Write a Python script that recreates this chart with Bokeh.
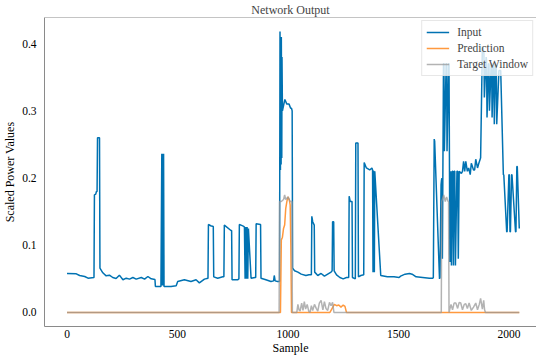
from bokeh.plotting import figure
from bokeh.embed import file_html
from bokeh.resources import INLINE
from bokeh.models import Range1d, FixedTicker, NumeralTickFormatter, Span, Legend, LegendItem

# ---- data ----
input_x = [0, 42, 57, 80, 95, 122, 124, 130, 133, 136, 138, 147, 149, 162, 177, 192, 207, 222, 237,
           253, 268, 283, 298, 313, 336, 351, 366, 381, 398, 400, 425, 429, 431, 433, 435, 437, 439,
           448, 471, 494, 501, 531, 561, 584, 599, 622, 638, 640, 650, 662, 664, 682, 705, 710, 712,
           742, 745, 747, 772, 778, 780, 800, 803, 806, 809, 812, 815, 818, 821, 833, 851, 854, 856,
           876, 878, 900, 923, 935, 938, 942, 953, 962,
           964, 966, 967, 969, 970, 972, 973, 975, 986, 995, 1005, 1012, 1016, 1019, 1021, 1030, 1045,
           1060, 1081, 1095, 1106, 1108, 1112, 1119, 1121, 1135, 1150, 1165, 1180, 1195, 1200, 1202,
           1207, 1209, 1220, 1235, 1250, 1265, 1275, 1277, 1282, 1290, 1292, 1305, 1307, 1317, 1319,
           1330, 1343, 1345, 1355, 1370, 1380, 1383, 1385, 1387, 1389, 1391, 1393, 1420, 1450, 1480,
           1503, 1510, 1530, 1550, 1562, 1580, 1610, 1640, 1656, 1658, 1662, 1664, 1686, 1688, 1693,
           1695, 1697, 1699, 1704, 1706, 1708, 1716, 1718, 1720, 1727, 1729, 1733, 1737, 1740, 1744,
           1746, 1749, 1752, 1755, 1758, 1765, 1768, 1771, 1775, 1785, 1790, 1795, 1800, 1805, 1812,
           1818, 1825, 1830, 1840, 1845, 1850, 1858, 1864, 1870, 1872, 1880, 1885, 1887, 1889, 1897,
           1899, 1901, 1908, 1910, 1912, 1920, 1922, 1924, 1930, 1932, 1934, 1940, 1943, 1945, 1955,
           1961, 1963, 1975, 1977, 1990, 1992, 2000, 2002, 2005, 2007, 2012, 2014, 2030, 2032, 2036,
           2038, 2047]
input_y = [0.058, 0.0575, 0.055, 0.0535, 0.051, 0.052, 0.175, 0.176, 0.18, 0.18, 0.26, 0.26, 0.066,
           0.059, 0.0545, 0.0555, 0.052, 0.0505, 0.0555, 0.0486, 0.051, 0.0496, 0.052, 0.0496, 0.052,
           0.0496, 0.0535, 0.050, 0.049, 0.0387, 0.0387, 0.236, 0.04, 0.236, 0.04, 0.236, 0.0387,
           0.0387, 0.0387, 0.0397, 0.046, 0.0486, 0.046, 0.0486, 0.044, 0.0496, 0.051, 0.131, 0.129,
           0.128, 0.053, 0.051, 0.053, 0.053, 0.130, 0.122, 0.122, 0.0486, 0.0486, 0.05, 0.131,
           0.128, 0.127, 0.05, 0.127, 0.05, 0.127, 0.05, 0.125, 0.051, 0.052, 0.052, 0.132, 0.131,
           0.051, 0.0486, 0.046, 0.047, 0.055, 0.047, 0.046, 0.046,
           0.418, 0.212, 0.40, 0.22, 0.41, 0.23, 0.38, 0.30, 0.317, 0.31, 0.31, 0.304, 0.304, 0.30,
           0.066, 0.062, 0.06, 0.057, 0.055, 0.056, 0.056, 0.143, 0.135, 0.13, 0.06, 0.055, 0.058,
           0.054, 0.057, 0.06, 0.062, 0.135, 0.135, 0.062, 0.056, 0.052, 0.05, 0.052, 0.052, 0.173,
           0.165, 0.165, 0.052, 0.05, 0.252, 0.252, 0.053, 0.055, 0.056, 0.223, 0.215, 0.212, 0.215,
           0.212, 0.06, 0.21, 0.21, 0.06, 0.21, 0.055, 0.053, 0.053, 0.052, 0.054, 0.057, 0.058,
           0.057, 0.053, 0.052, 0.051, 0.051, 0.052, 0.258, 0.255, 0.05, 0.052, 0.19, 0.197, 0.2,
           0.08, 0.37, 0.37, 0.24, 0.37, 0.37, 0.24, 0.37, 0.37, 0.075, 0.21, 0.07, 0.21, 0.21, 0.07,
           0.21, 0.21, 0.07, 0.21, 0.21, 0.08, 0.21, 0.207, 0.21, 0.225, 0.21, 0.225, 0.21, 0.215,
           0.205, 0.222, 0.212, 0.212, 0.228, 0.215, 0.222, 0.228, 0.23, 0.396, 0.39, 0.385, 0.32,
           0.38, 0.375, 0.29, 0.37, 0.37, 0.30, 0.37, 0.37, 0.29, 0.37, 0.37, 0.28, 0.37, 0.365,
           0.28, 0.36, 0.36, 0.36, 0.205, 0.205, 0.12, 0.12, 0.205, 0.205, 0.12, 0.12, 0.205, 0.205,
           0.12, 0.12, 0.217, 0.217, 0.125, 0.123]

pred_x = [0, 966, 970, 975, 980, 985, 990, 995, 1000, 1006, 1010, 1013, 1016, 1190, 1200, 1210,
          1220, 1230, 1240, 1250, 1258, 1265, 2047]
pred_y = [0, 0, 0.108, 0.112, 0.125, 0.13, 0.155, 0.165, 0.172, 0.168, 0.16, 0.1, 0, 0, 0.006,
          0.012, 0.01, 0.011, 0.008, 0.011, 0.009, 0, 0]

target_x = [0, 960, 962, 970, 980, 985, 990, 1000, 1010, 1018, 1020, 1040, 1045, 1050, 1055, 1062,
            1068, 1074, 1080, 1087, 1094, 1100, 1106, 1112, 1120, 1128, 1135, 1142, 1150, 1158,
            1165, 1172, 1180, 1188, 1195, 1202, 1208, 1694, 1696, 1705, 1712, 1718, 1725, 1727,
            1729, 1738, 1745, 1752, 1760, 1768, 1775, 1782, 1790, 1798, 1805, 1812, 1820, 1830,
            1840, 1850, 1858, 1866, 1872, 1880, 1886, 1890, 1894, 2047]
target_y = [0, 0, 0.165, 0.165, 0.168, 0.175, 0.168, 0.172, 0.165, 0.165, 0, 0, 0.012, 0.004,
            0.002, 0.014, 0.003, 0.016, 0.005, 0.012, 0.002, 0.0, 0.01, 0.003, 0.012, 0.006, 0.002,
            0.014, 0.018, 0.004, 0.016, 0.006, 0.003, 0.015, 0.01, 0.015, 0, 0, 0.165, 0.175,
            0.165, 0.172, 0.165, 0.165, 0, 0.012, 0.004, 0.014, 0.014, 0.006, 0.015, 0.014,
            0.004, 0.012, 0.013, 0.006, 0.014, 0.003, 0.008, 0.014, 0.004, 0.012, 0.021, 0.005,
            0.018, 0.004, 0, 0]

x_ticks = [0, 500, 1000, 1500, 2000]
y_ticks = [0.0, 0.1, 0.2, 0.3, 0.4]

SERIF = "Liberation Serif"
SPINE = "#8a8a8a"
FS = "11.5px"

y_lo, y_hi = -0.0209, 0.4389

p = figure(width=536, height=357, output_backend="svg", toolbar_location=None,
           x_range=Range1d(-102, 2125), y_range=Range1d(y_lo, y_hi),
           min_border_left=0, min_border_right=0, min_border_top=0, min_border_bottom=0)

p.title.text = "Network Output"
p.title.align = "center"
p.title.text_font = SERIF
p.title.text_font_style = "normal"
p.title.text_font_size = "12px"
p.title.standoff = 1
p.title.offset = 0

p.outline_line_color = None
p.grid.grid_line_color = None
p.background_fill_color = "white"

top_spine = Span(location=y_hi, dimension="width", line_color=SPINE, line_width=1)
p.add_layout(top_spine)

for ax in (p.xaxis[0], p.yaxis[0]):
    ax.axis_line_color = SPINE
    ax.axis_line_width = 1
    ax.major_tick_line_color = None
    ax.minor_tick_line_color = None
    ax.major_tick_out = 0
    ax.major_tick_in = 0
    ax.minor_tick_out = 0
    ax.minor_tick_in = 0
    ax.major_label_text_font = SERIF
    ax.major_label_text_font_size = FS
    ax.major_label_text_color = "black"
    ax.axis_label_text_font = SERIF
    ax.axis_label_text_font_size = "12px"
    ax.axis_label_text_font_style = "normal"
    ax.axis_label_text_color = "black"

p.xaxis.axis_label = "Sample"
p.yaxis.axis_label = "Scaled Power Values"
p.xaxis.ticker = FixedTicker(ticks=x_ticks)
p.yaxis.ticker = FixedTicker(ticks=y_ticks)
p.yaxis.formatter = NumeralTickFormatter(format="0.0")
p.xaxis.major_label_standoff = 3
p.xaxis.axis_label_standoff = 0
p.yaxis.major_label_standoff = 8
p.yaxis.axis_label_standoff = 2

r_in = p.line(input_x, input_y, line_color="#0072B2", line_width=1.5)
r_pr = p.line(pred_x, pred_y, line_color="#ff7f0e", line_alpha=0.8, line_width=1.5)
r_tg = p.line(target_x, target_y, line_color="#999999", line_alpha=0.75, line_width=1.5)

legend = Legend(items=[LegendItem(label="Input", renderers=[r_in]),
                       LegendItem(label="Prediction", renderers=[r_pr]),
                       LegendItem(label="Target Window", renderers=[r_tg])],
                location="top_right")
legend.label_text_font = SERIF
legend.label_text_font_size = FS
legend.glyph_width = 23
legend.glyph_height = 14
legend.label_height = 14
legend.spacing = 2
legend.padding = 4
legend.margin = 3
legend.label_standoff = 8
legend.border_line_color = "#d0d0d0"
legend.border_line_width = 1
legend.background_fill_alpha = 0.8
p.add_layout(legend)

open("out.html", "w").write(file_html(p, INLINE))
